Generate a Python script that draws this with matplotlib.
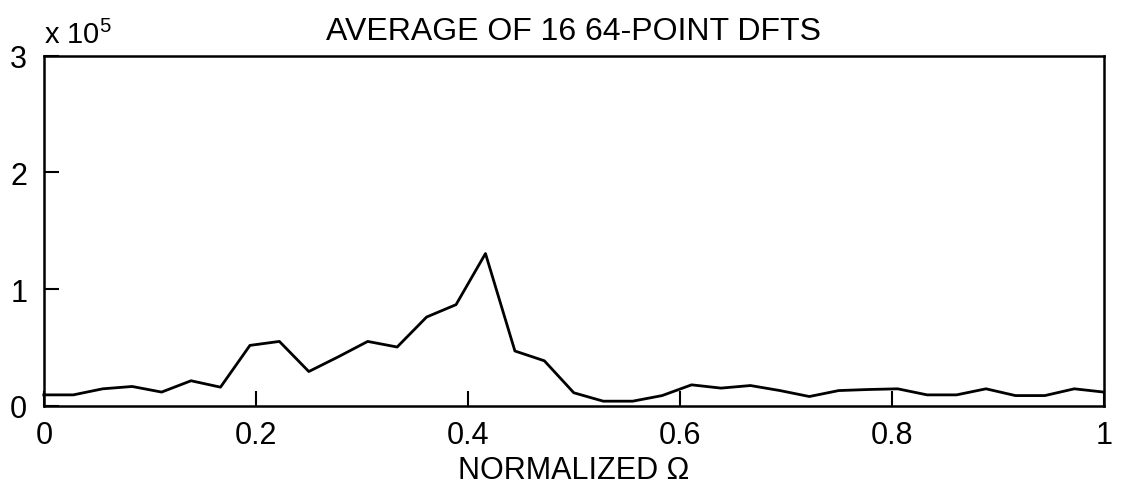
import numpy as np
import matplotlib
matplotlib.use("Agg")
import matplotlib.pyplot as plt

plt.rcParams['font.family'] = ['Liberation Sans', 'DejaVu Sans']
plt.rcParams['mathtext.default'] = 'regular'

# averaged DFT magnitude, in units of 1e5, 37 bins across normalized frequency
freq = np.arange(37) / 36
avg_dft = [0.094, 0.094, 0.146, 0.166, 0.118, 0.215, 0.160, 0.518, 0.552, 0.294,
           0.420, 0.552, 0.504, 0.761, 0.867, 1.305, 0.470, 0.386, 0.112, 0.040,
           0.040, 0.088, 0.180, 0.152, 0.174, 0.131, 0.080, 0.131, 0.140, 0.146,
           0.094, 0.094, 0.146, 0.088, 0.088, 0.146, 0.118]

xticks = [0, 0.2, 0.4, 0.6, 0.8, 1]
xticklabels = ['0', '0.2', '0.4', '0.6', '0.8', '1']
yticks = [0, 1, 2, 3]

fig = plt.figure(figsize=(11.24, 4.89), dpi=100)
ax = fig.add_axes([0.039, 0.168, 0.943, 0.716])

ax.plot(freq, avg_dft, color='black', lw=2.0, clip_on=False)

ax.set_xlim(0, 1)
ax.set_ylim(0, 3)
ax.set_xticks(xticks)
ax.set_xticklabels(xticklabels)
ax.set_yticks(yticks)
ax.tick_params(direction='in', length=11, width=1.5, labelsize=22, pad=10)
ax.tick_params(axis='y', pad=12)
for s in ax.spines.values():
    s.set_linewidth(1.8)

ax.set_title('AVERAGE OF 16 64-POINT DFTS', fontsize=23, pad=12)
ax.set_xlabel('NORMALIZED Ω', fontsize=22, labelpad=4)
ax.text(0.0, 1.02, 'x 10$^{5}$', transform=ax.transAxes, fontsize=21,
        ha='left', va='bottom')

fig.savefig('out.png', dpi=100)
